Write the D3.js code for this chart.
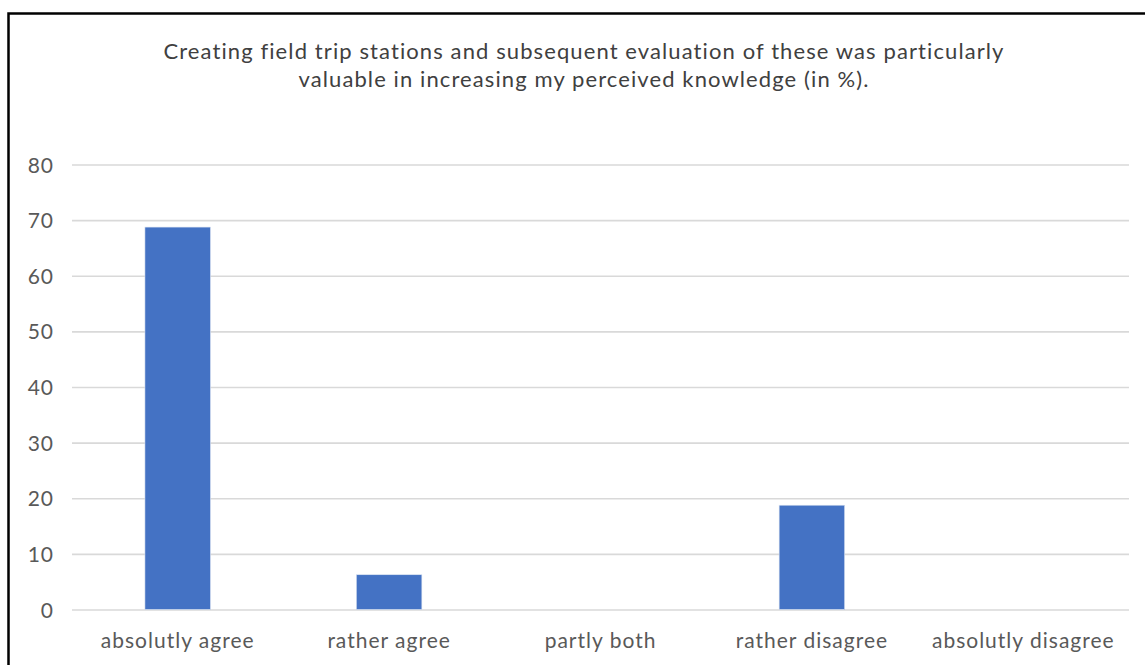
<!DOCTYPE html>
<html>
<head>
<meta charset="utf-8">
<script src="https://cdn.jsdelivr.net/npm/d3@7"></script>
<style>
  html, body { margin: 0; padding: 0; background: #fff; }
  svg { display: block; }
</style>
</head>
<body>
<div id="chart"></div>
<script>
// Survey responses (percent of participants)
const categories = ["absolutly agree", "rather agree", "partly both", "rather disagree", "absolutly disagree"];
const values = [68.75, 6.25, 0, 18.75, 0];
const yTicks = [0, 10, 20, 30, 40, 50, 60, 70, 80];
const titleLines = [
  "Creating field trip stations and subsequent evaluation of these was particularly",
  "valuable in increasing my perceived knowledge (in %)."
];

const W = 1145, H = 665;
const plot = { left: 72, right: 1129, top: 164.5, bottom: 609.5 };
const font = "Lato, 'Open Sans', sans-serif";

const svg = d3.select("#chart").append("svg")
  .attr("width", W).attr("height", H);

// chart frame
svg.append("rect")
  .attr("x", 8.5).attr("y", 13.5)
  .attr("width", 1300).attr("height", 800)
  .attr("fill", "#fff")
  .attr("stroke", "#000").attr("stroke-width", 2.5);

// title
svg.append("g").selectAll("text")
  .data(titleLines).join("text")
  .attr("x", 584)
  .attr("y", (d, i) => 58.5 + i * 28.5)
  .attr("text-anchor", "middle")
  .attr("font-family", font)
  .attr("font-size", 22)
  .attr("letter-spacing", 1.1)
  .attr("fill", "#404040")
  .text(d => d);

const x = d3.scaleBand()
  .domain(categories)
  .range([plot.left, plot.right])
  .paddingInner(0.69)
  .paddingOuter(0.345);

const y = d3.scaleLinear()
  .domain([0, 80])
  .range([plot.bottom, plot.top]);

// horizontal gridlines with value labels
const yAxis = d3.axisLeft(y)
  .tickValues(yTicks)
  .tickSize(-(plot.right - plot.left))
  .tickPadding(18);

const gy = svg.append("g")
  .attr("transform", `translate(${plot.left},0)`)
  .call(yAxis);
gy.select(".domain").remove();
gy.selectAll(".tick line")
  .attr("stroke", "#d9d9d9").attr("stroke-width", 1.6);
gy.selectAll(".tick text")
  .attr("font-family", font)
  .attr("font-size", 21)
  .attr("letter-spacing", 1)
  .attr("fill", "#595959")
  .attr("dy", "0.36em");

// bars
svg.append("g").selectAll("rect")
  .data(categories.map((c, i) => ({ c, v: values[i] })).filter(d => d.v > 0))
  .join("rect")
  .attr("x", d => x(d.c))
  .attr("width", x.bandwidth())
  .attr("y", d => y(d.v))
  .attr("height", d => y(0) - y(d.v))
  .attr("fill", "#4472c4")
  .attr("stroke", "#dce4f2").attr("stroke-width", 0.6);

// category axis labels
const xAxis = d3.axisBottom(x).tickSize(0).tickPadding(0);
const gx = svg.append("g")
  .attr("transform", `translate(0,${plot.bottom})`)
  .call(xAxis);
gx.select(".domain").remove();
gx.selectAll(".tick text")
  .attr("font-family", font)
  .attr("font-size", 21)
  .attr("letter-spacing", 1)
  .attr("fill", "#595959")
  .attr("dy", 0)
  .attr("y", 38);
</script>
</body>
</html>
